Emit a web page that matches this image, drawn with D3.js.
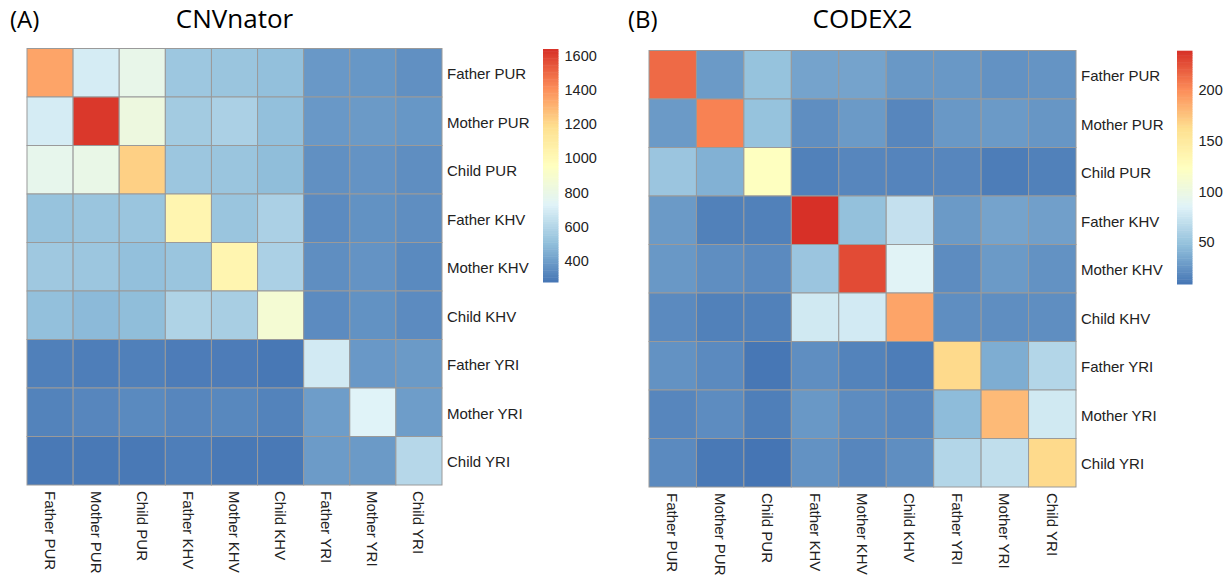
<!DOCTYPE html>
<html>
<head>
<meta charset="utf-8">
<script src="https://cdn.jsdelivr.net/npm/d3@7"></script>
<style>
  html, body { margin: 0; padding: 0; background: #fff; }
  svg { display: block; }
</style>
</head>
<body>
<svg id="chart" width="1231" height="577"></svg>
<script>
// sample order, same for rows and columns
const samples = ['Father PUR', 'Mother PUR', 'Child PUR', 'Father KHV', 'Mother KHV',
  'Child KHV', 'Father YRI', 'Mother YRI', 'Child YRI'];

// CNVnator overlap counts (row = sample, col = sample)
const cnvnatorValues = [
  [1350, 700, 790, 540, 530, 510, 385, 380, 360],
  [700, 1620, 830, 555, 580, 510, 385, 390, 380],
  [780, 800, 1230, 535, 530, 500, 360, 370, 355],
  [520, 530, 530, 1030, 530, 580, 345, 365, 355],
  [545, 535, 510, 530, 1030, 580, 355, 370, 340],
  [510, 490, 500, 590, 570, 880, 345, 365, 345],
  [310, 305, 310, 300, 300, 285, 690, 385, 390],
  [320, 330, 340, 330, 335, 320, 400, 730, 400],
  [290, 290, 290, 305, 290, 290, 395, 390, 610]
];
const cnvnatorRange = [277, 1640];
const cnvnatorTicks = [400, 600, 800, 1000, 1200, 1400, 1600];

// CODEX2 overlap counts
const codexValues = [
  [215, 28, 50, 33, 33, 27, 27, 24, 25],
  [28, 205, 50, 22, 28, 18, 27, 28, 26],
  [52, 40, 123, 15, 18, 17, 18, 13, 15],
  [28, 15, 15, 239, 49, 72, 28, 33, 31],
  [27, 22, 20, 52, 228, 87, 21, 28, 24],
  [20, 15, 15, 78, 79, 190, 22, 22, 22],
  [24, 20, 10, 22, 16, 13, 165, 38, 64],
  [18, 21, 14, 27, 21, 19, 46, 180, 78],
  [20, 11, 9, 24, 18, 22, 64, 70, 165]
];
const codexRange = [9, 239];
const codexTicks = [50, 100, 150, 200];

// rev(RdYlBu 7)
const palette = ['#4575B4', '#91BFDB', '#E0F3F8', '#FFFFBF', '#FEE090', '#FC8D59', '#D73027'];

const svg = d3.select('#chart');
const labelFont = '"Liberation Sans", Arial, sans-serif';
const titleFont = '"Open Sans", "Noto Sans", sans-serif';

function heatmap(opt) {
  const { values, range, ticks, title, tag, box, bar } = opt;
  const color = d3.scaleLinear()
    .domain(d3.range(palette.length).map(i => range[0] + i * (range[1] - range[0]) / (palette.length - 1)))
    .range(palette).interpolate(d3.interpolateRgb);

  const x = d3.scaleBand().domain(samples).range([box.x0, box.x1]);
  const y = d3.scaleBand().domain(samples).range([box.y0, box.y1]);

  const cells = [];
  values.forEach((row, i) => row.forEach((v, j) => cells.push({ r: samples[i], c: samples[j], v })));

  const g = svg.append('g');
  g.selectAll('rect.cell').data(cells).enter().append('rect')
    .attr('class', 'cell')
    .attr('x', d => x(d.c)).attr('y', d => y(d.r))
    .attr('width', x.bandwidth()).attr('height', y.bandwidth())
    .attr('fill', d => color(d.v))
    .attr('stroke', '#9a9a9a').attr('stroke-width', 1);

  // row labels on the right
  g.selectAll('text.row').data(samples).enter().append('text')
    .attr('x', box.x1 + 5).attr('y', d => y(d) + y.bandwidth() / 2 + 1)
    .attr('dominant-baseline', 'central')
    .style('font-family', labelFont).style('font-size', '15px').style('fill', '#222')
    .text(d => d);

  // column labels, rotated to read downward
  g.selectAll('text.col').data(samples).enter().append('text')
    .attr('transform', d => `translate(${x(d) + x.bandwidth() / 2},${box.y1 + 6}) rotate(90)`)
    .attr('dominant-baseline', 'central')
    .style('font-family', labelFont).style('font-size', '15px').style('fill', '#222')
    .text(d => d);

  // colour bar: 100 strips like pheatmap
  const by = d3.scaleLinear().domain(range).range([bar.y1, bar.y0]);
  const steps = d3.range(100).map(i => range[0] + (i + 0.5) * (range[1] - range[0]) / 100);
  const stepH = (bar.y1 - bar.y0) / 100;
  g.selectAll('rect.bar').data(steps).enter().append('rect')
    .attr('x', bar.x).attr('width', bar.w)
    .attr('y', d => by(d) - stepH / 2).attr('height', stepH + 0.5)
    .attr('fill', d => color(d));

  g.selectAll('text.tick').data(ticks).enter().append('text')
    .attr('x', bar.x + bar.w + 6).attr('y', d => by(d))
    .attr('dominant-baseline', 'central')
    .style('font-family', labelFont).style('font-size', '14.5px').style('fill', '#222')
    .text(d => d);

  svg.append('text')
    .attr('x', (box.x0 + box.x1) / 2).attr('y', 28)
    .attr('text-anchor', 'middle')
    .style('font-family', titleFont).style('font-size', '26px').style('fill', '#000')
    .text(title);

  svg.append('text')
    .attr('x', tag.x).attr('y', 28)
    .style('font-family', titleFont).style('font-size', '24px').style('fill', '#000')
    .text(tag.text);
}

heatmap({
  values: cnvnatorValues, range: cnvnatorRange, ticks: cnvnatorTicks,
  title: 'CNVnator', tag: { x: 10, text: '(A)' },
  box: { x0: 27, x1: 442, y0: 48.5, y1: 485 },
  bar: { x: 543, w: 15.5, y0: 49, y1: 282 }
});

heatmap({
  values: codexValues, range: codexRange, ticks: codexTicks,
  title: 'CODEX2', tag: { x: 628, text: '(B)' },
  box: { x0: 649, x1: 1076, y0: 50.5, y1: 487 },
  bar: { x: 1177, w: 15.5, y0: 50.7, y1: 284 }
});
</script>
</body>
</html>
